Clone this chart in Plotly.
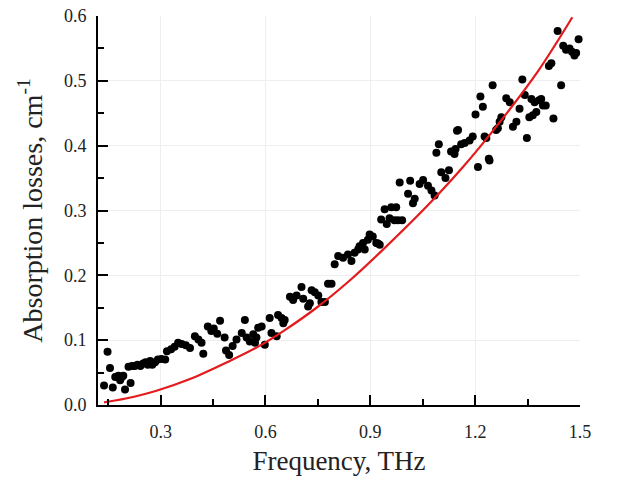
import plotly.graph_objects as go

freq = [0.138, 0.148, 0.155, 0.163, 0.170, 0.179, 0.184, 0.189, 0.193, 0.198,
        0.208, 0.214, 0.218, 0.226, 0.234, 0.242, 0.250, 0.257, 0.263, 0.270,
        0.276, 0.284, 0.292, 0.302, 0.313, 0.318, 0.330, 0.340, 0.350, 0.360,
        0.372, 0.384, 0.398, 0.408, 0.417, 0.422, 0.435, 0.445, 0.452, 0.462,
        0.470, 0.483, 0.487, 0.496, 0.506, 0.517, 0.532, 0.541, 0.546, 0.555,
        0.565, 0.570, 0.574, 0.579, 0.589, 0.598, 0.612, 0.617, 0.632, 0.636,
        0.646, 0.651, 0.655, 0.670, 0.679, 0.689, 0.703, 0.708, 0.722, 0.727,
        0.732, 0.741, 0.751, 0.760, 0.770, 0.779, 0.789, 0.798, 0.808, 0.822,
        0.836, 0.846, 0.855, 0.865, 0.869, 0.874, 0.879, 0.884, 0.893, 0.898,
        0.907, 0.917, 0.922, 0.927, 0.931, 0.941, 0.947, 0.955, 0.960, 0.969,
        0.974, 0.979, 0.984, 0.991, 1.008, 1.014, 1.022, 1.027, 1.041, 1.051,
        1.065, 1.075, 1.084, 1.089, 1.096, 1.103, 1.115, 1.125, 1.131, 1.137,
        1.141, 1.144, 1.148, 1.151, 1.160, 1.170, 1.184, 1.193, 1.201, 1.208,
        1.215, 1.222, 1.227, 1.232, 1.239, 1.241, 1.250, 1.260, 1.265, 1.270,
        1.275, 1.289, 1.299, 1.308, 1.318, 1.327, 1.335, 1.342, 1.348, 1.355,
        1.361, 1.365, 1.370, 1.375, 1.383, 1.389, 1.394, 1.402, 1.411, 1.418,
        1.424, 1.436, 1.446, 1.452, 1.460, 1.470, 1.477, 1.484, 1.489, 1.496,
        1.503]
loss = [0.030, 0.082, 0.057, 0.027, 0.043, 0.045, 0.038, 0.043, 0.045, 0.024,
        0.059, 0.034, 0.060, 0.060, 0.062, 0.060, 0.064, 0.066, 0.062, 0.068,
        0.062, 0.066, 0.070, 0.071, 0.070, 0.083, 0.086, 0.090, 0.096, 0.094,
        0.092, 0.088, 0.106, 0.101, 0.096, 0.079, 0.121, 0.114, 0.118, 0.110,
        0.130, 0.104, 0.084, 0.077, 0.091, 0.101, 0.111, 0.131, 0.104, 0.098,
        0.109, 0.096, 0.104, 0.119, 0.121, 0.093, 0.134, 0.111, 0.106, 0.139,
        0.134, 0.126, 0.131, 0.167, 0.162, 0.169, 0.182, 0.164, 0.152, 0.157,
        0.177, 0.174, 0.169, 0.159, 0.159, 0.187, 0.187, 0.217, 0.230, 0.227,
        0.232, 0.222, 0.235, 0.240, 0.245, 0.245, 0.250, 0.240, 0.255, 0.263,
        0.260, 0.250, 0.249, 0.247, 0.286, 0.302, 0.279, 0.288, 0.305, 0.285,
        0.305, 0.285, 0.343, 0.285, 0.326, 0.346, 0.311, 0.318, 0.341, 0.347,
        0.338, 0.331, 0.323, 0.389, 0.402, 0.359, 0.350, 0.362, 0.391, 0.391,
        0.387, 0.395, 0.423, 0.424, 0.402, 0.404, 0.408, 0.414, 0.448, 0.367,
        0.476, 0.460, 0.414, 0.412, 0.380, 0.377, 0.493, 0.424, 0.427, 0.437,
        0.444, 0.473, 0.467, 0.429, 0.437, 0.457, 0.502, 0.478, 0.412, 0.444,
        0.472, 0.447, 0.467, 0.452, 0.470, 0.472, 0.462, 0.462, 0.523, 0.527,
        0.442, 0.577, 0.493, 0.554, 0.548, 0.550, 0.545, 0.539, 0.543, 0.564,
        0.566]

# fitted curve
fit_freq = [0.138, 0.200, 0.288, 0.384, 0.498, 0.579, 0.651, 0.746, 0.841,
            0.937, 1.061, 1.165, 1.270, 1.380, 1.478]
fit_loss = [0.004, 0.010, 0.022, 0.040, 0.068, 0.090, 0.114, 0.150, 0.192,
            0.240, 0.306, 0.367, 0.436, 0.515, 0.598]

x_ticks = [0.3, 0.6, 0.9, 1.2, 1.5]
y_ticks = [0.0, 0.1, 0.2, 0.3, 0.4, 0.5, 0.6]
x_range = [0.1207, 1.5]
y_range = [0, 0.6]

fig = go.Figure()

fig.add_trace(go.Scatter(x=freq, y=loss, mode="markers",
                         marker=dict(color="black", size=8),
                         cliponaxis=False, showlegend=False))
# curve sits on a twin pair of axes which only carry the light grid
fig.add_trace(go.Scatter(x=fit_freq, y=fit_loss, mode="lines", xaxis="x2", yaxis="y2",
                         line=dict(color="#e41a1c", width=2.2, shape="spline"),
                         cliponaxis=False, showlegend=False))

# page body adds 8px, so the figure is a bit smaller than the window
fig.update_layout(width=612, height=470,
                  margin=dict(l=90, r=40, t=8, b=73, autoexpand=False),
                  paper_bgcolor="white", plot_bgcolor="white",
                  font=dict(family="Liberation Serif", color="#222"))

tick_style = dict(showline=True, linecolor="black", linewidth=2,
                  ticks="inside", ticklen=10, tickwidth=2, tickcolor="black",
                  showgrid=False, zeroline=False, automargin=False,
                  ticklabeloverflow="allow", tickfont=dict(size=18))

fig.update_layout(
    xaxis=dict(range=x_range, tickvals=x_ticks,
               ticktext=["%.1f" % v for v in x_ticks],
               ticklabelstandoff=9,
               minor=dict(ticks="inside", ticklen=6, tickwidth=2,
                          tickcolor="black", dtick=0.15, tick0=0),
               title=dict(text="Frequency, THz", font=dict(size=27), standoff=11),
               **tick_style),
    yaxis=dict(range=y_range, tickvals=y_ticks,
               ticktext=["%.1f" % v for v in y_ticks],
               ticklabelstandoff=6,
               minor=dict(ticks="inside", ticklen=6, tickwidth=2,
                          tickcolor="black", dtick=0.05, tick0=0),
               title=dict(text="Absorption losses, cm<sup>-1</sup>",
                          font=dict(size=28), standoff=13),
               **tick_style),
    xaxis2=dict(range=x_range, overlaying="x", tickvals=x_ticks,
                showticklabels=False, ticks="", showline=False,
                showgrid=True, gridcolor="#eeeeee", gridwidth=1, zeroline=False),
    yaxis2=dict(range=y_range, overlaying="y", tickvals=y_ticks,
                showticklabels=False, ticks="", showline=False,
                showgrid=True, gridcolor="#eeeeee", gridwidth=1, zeroline=False),
)

fig.write_html("out.html")
